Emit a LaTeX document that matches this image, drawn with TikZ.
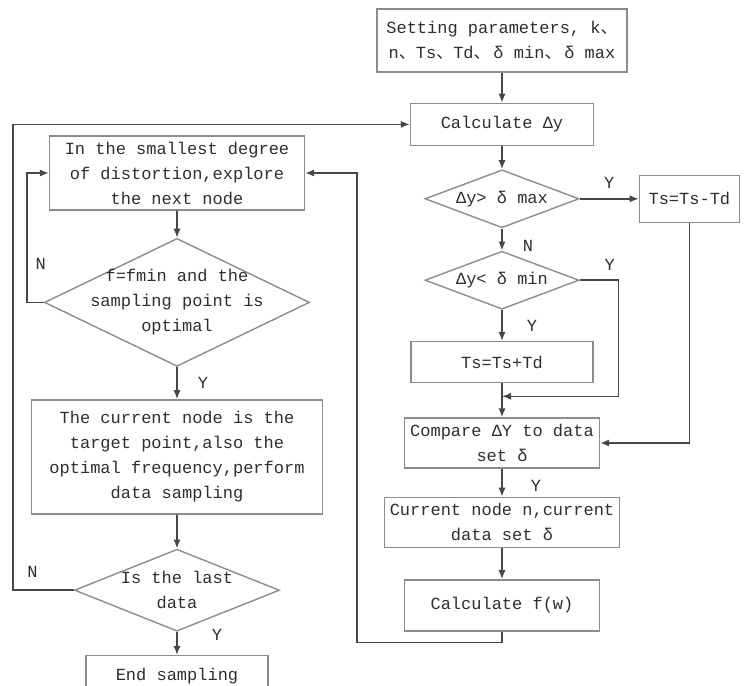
\documentclass[tikz,border=0pt]{standalone}
\usepackage{fontspec}
\setmainfont{Liberation Mono}
\newfontfamily\cjkfont{Noto Sans CJK SC}
\newcommand{\dun}{{\cjkfont 、}}
\usepackage{tikz}
\usetikzlibrary{positioning,arrows.meta,shapes.geometric}
\definecolor{boxgray}{HTML}{8C8C8C}
\definecolor{linegray}{HTML}{474747}
\definecolor{textgray}{HTML}{2E2E2E}
\tikzset{
proc/.style={draw=boxgray, line width=0.7pt, align=center, inner sep=0pt,
text=textgray, font=\fontsize{8.5}{12.5}\selectfont},
decision/.style={draw=boxgray, line width=0.7pt, diamond, inner sep=0pt},
dtext/.style={align=center, inner sep=0pt, text=textgray, font=\fontsize{8.5}{12.5}\selectfont},
lab/.style={text=textgray, inner sep=1pt, font=\fontsize{8.5}{10}\selectfont},
arrow/.style={-{Latex[length=4.5pt,width=3.6pt]}, draw=linegray, line width=0.75pt}
}
\begin{document}
\begin{tikzpicture}[node distance=15pt]
\useasboundingbox (0,0) rectangle (372.5pt,-343pt);
% right column
\node[proc, minimum width=125pt, minimum height=31.5pt] (set) at (251pt,-20.25pt)
{Setting parameters, k\dun\\n\dun Ts\dun Td\dun\,δ min\dun\,δ max};
\node[proc, minimum width=91.5pt, minimum height=21pt, below=15pt of set] (calc) {Calculate Δy};
\node[decision, minimum width=77pt, minimum height=29pt, below=11.5pt of calc,
label={[dtext]center:Δy> δ max}] (d1) {};
\node[proc, minimum width=50pt, minimum height=23.5pt, right=29.5pt of d1] (minus) {Ts=Ts-Td};
\node[decision, minimum width=77pt, minimum height=29pt, below=11pt of d1,
label={[dtext]center:Δy< δ min}] (d2) {};
\node[proc, minimum width=91pt, minimum height=20.5pt, below=15.5pt of d2] (plus) {Ts=Ts+Td};
\node[proc, minimum width=97.5pt, minimum height=25pt, below=17pt of plus] (cmp) {Compare ΔY to data\\set δ};
\node[proc, minimum width=117.5pt, minimum height=25pt, below=14pt of cmp] (cur) {Current node n,current\\data set δ};
\node[proc, minimum width=97.5pt, minimum height=25.5pt, below=15.5pt of cur] (fw) {Calculate f(w)};
\coordinate[below=6.5pt of plus] (mrg);
% left column
\node[proc, minimum width=127.5pt, minimum height=37pt] (explore) at (88.5pt,-86.5pt)
{In the smallest degree\\of distortion,explore\\the next node};
\node[decision, minimum width=132.5pt, minimum height=64pt, below=13.5pt of explore,
label={[dtext]center:f=fmin and the\\sampling point is\\optimal}] (d3) {};
\node[proc, minimum width=145.5pt, minimum height=57pt, below=16pt of d3] (target)
{The current node is the\\target point,also the\\optimal frequency,perform\\data sampling};
\node[decision, minimum width=102.5pt, minimum height=41pt, below=17pt of target,
label={[dtext]center:Is the last\\data}] (d4) {};
\node[proc, minimum width=91pt, minimum height=20pt, below=11.5pt of d4] (endb) {End sampling};
\coordinate (lx) at (6.5pt,0);
% connectors
\foreach \x/\y in {set/calc,calc/d1,plus/cmp,cur/fw,explore/d3,target/d4}
\draw[arrow](\x)--(\y);
\draw[arrow](d1)--node[lab,pos=0.8,right=9pt]{N}(d2);
\draw[arrow](d1)--node[lab,above,yshift=4pt]{Y}(minus);
\draw[arrow](d2)--node[lab,right=11pt]{Y}(plus);
\draw[arrow](d2.east)--node[lab,above,pos=0.77,yshift=3.5pt]{Y}++(19.5pt,0)|-(mrg);
\draw[arrow](minus)|-(cmp);
\draw[arrow](cmp)--node[lab,pos=0.6,right=13pt]{Y}(cur);
\draw[arrow](fw.south)--++(0,-5.5pt)-|([xshift=26pt]explore.east)--(explore.east);
\draw[arrow](d3)--node[lab,right=9pt]{Y}(target);
\draw[arrow](d3.west)--++(-8.5pt,0)|-node[lab,pos=0.15,right=3pt]{N}(explore.west);
\draw[arrow](d4)--node[lab,pos=0.15,right=16pt]{Y}(endb);
\draw[arrow](d4.west)-|node[lab,pos=0.34,above=5pt]{N}(lx|-calc.west)--(calc.west);
\end{tikzpicture}
\end{document}
